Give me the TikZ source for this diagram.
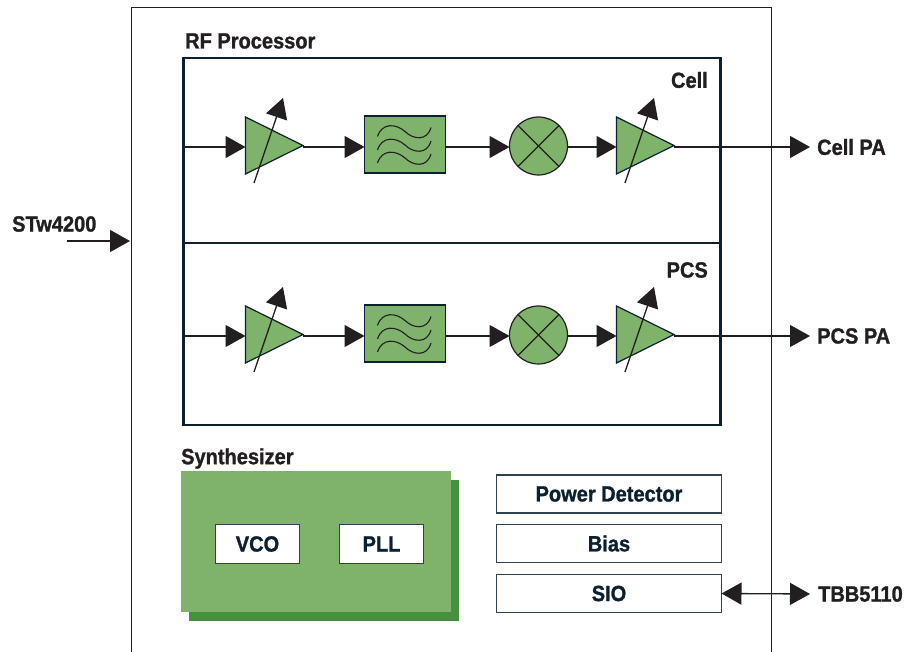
\documentclass[tikz,border=0pt]{standalone}
\usepackage{fontspec}
\setmainfont{Liberation Sans}[FakeStretch=0.91]
\usetikzlibrary{arrows.meta,shapes.geometric}

\definecolor{leafgreen}{HTML}{7FB26B}
\definecolor{darkgreen}{HTML}{47903F}
\definecolor{inkblue}{HTML}{0B2030}
\definecolor{tipblack}{HTML}{231F20}

\newfontfamily\labelfont{Liberation Sans}[FakeStretch=0.91,BoldFeatures={FakeBold=1.2}]

\tikzset{
    label/.style={font=\labelfont\fontsize{22}{24}\selectfont\bfseries, text=tipblack, inner sep=0pt},
    ampbox/.style={isosceles triangle, isosceles triangle stretches, draw=inkblue, fill=leafgreen,
        line width=1.2pt, minimum width=57pt, minimum height=57.5pt, inner sep=0pt, outer sep=0pt, anchor=west},
    filterbox/.style={draw=inkblue, fill=leafgreen, line width=1.2pt, minimum width=81pt, minimum height=57pt, inner sep=0pt, outer sep=0pt},
    mixerbox/.style={circle, draw=tipblack, fill=leafgreen, line width=1.2pt, minimum size=58pt, inner sep=0pt, outer sep=0pt},
    rowbox/.style={draw=inkblue, line width=2.6pt, minimum width=537pt, inner sep=0pt, outer sep=0pt, anchor=north west},
    whitebox/.style={draw=inkblue!85, fill=white, line width=1.1pt, inner sep=0pt, outer sep=0pt,
        font=\labelfont\fontsize{22}{24}\selectfont\bfseries, text=inkblue},
    wire/.style={draw=tipblack, line width=1.3pt},
    arrowwire/.style={wire, -{Triangle[length=20pt,width=22pt,color=tipblack]}},
    bothwire/.style={wire, {Triangle[length=20pt,width=22pt,color=tipblack]}-{Triangle[length=20pt,width=22pt,color=tipblack]}}
}

\begin{document}
\begin{tikzpicture}[x=1pt, y=-1pt]
    \useasboundingbox (0,0) rectangle (908,652);

    % chip outline, open at the bottom
    \draw[tipblack, line width=1pt] (131.5,652) -- (131.5,7.5) -- (771,7.5) -- (771,652);

    \node[label, anchor=west] (rflabel) at (185,41) {RF Processor};
    \node[rowbox, minimum height=185pt] (cellbox) at (183.5,58) {};
    \node[rowbox, minimum height=182pt] (pcsbox) at (183.5,243) {};
    \node[label, anchor=east] (celllabel) at (708,80) {Cell};
    \node[label, anchor=east] (pcslabel) at (708,270) {PCS};

    \node[label, anchor=west] (cellpa) at (817,147) {Cell PA};
    \node[label, anchor=west] (pcspa) at (817,336) {PCS PA};

    % both signal rows
    \foreach \n/\rowy/\rowbox/\outlabel in {1/147/cellbox/cellpa, 2/336/pcsbox/pcspa} {
        \coordinate (row\n) at (183,\rowy);
        \node[ampbox] (ampa\n) at (245.5,\rowy-1.5) {};
        \node[filterbox] (filter\n) at (405,\rowy-2.5) {};
        \node[mixerbox] (mixer\n) at (538.5,\rowy-1) {};
        \node[ampbox] (ampb\n) at (616.5,\rowy-1.5) {};

        \draw[arrowwire] (\rowbox.west |- row\n) -- (ampa\n.west |- row\n);
        \draw[arrowwire] (ampa\n.apex |- row\n) -- (filter\n.west |- row\n);
        \draw[arrowwire] (filter\n.east |- row\n) -- (mixer\n.west |- row\n);
        \draw[arrowwire] (mixer\n.east |- row\n) -- (ampb\n.west |- row\n);
        \draw[arrowwire] (ampb\n.apex |- row\n) -- ([xshift=-7pt]\outlabel.west);

        % gain arrows
        \coordinate (tuna\n) at (254,\rowy+36);
        \coordinate (tunatip\n) at (283,\rowy-49);
        \coordinate (tunb\n) at (625,\rowy+36);
        \coordinate (tunbtip\n) at (654,\rowy-49);
        \draw[arrowwire] (tuna\n) -- (tunatip\n);
        \draw[arrowwire] (tunb\n) -- (tunbtip\n);

        \draw[tipblack, line width=1.1pt] (mixer\n.north west) -- (mixer\n.south east);
        \draw[tipblack, line width=1.1pt] (mixer\n.south west) -- (mixer\n.north east);

        % filter waves
        \foreach \dy in {-8,5.5,18.5} {
            \draw[tipblack, line width=1.1pt, shift={(filter\n.center)}]
                (-27.5,\dy) .. controls (-23,\dy-14) and (-9,\dy-13) .. (0,\dy-5)
                .. controls (8,\dy+3) and (22,\dy+5) .. (26,\dy-9);
        }
    }

    % synthesizer
    \node[label, anchor=west] (synlabel) at (181,458.5) {Synthesizer};
    \fill[darkgreen] (189,480) rectangle (459,621);
    \fill[leafgreen] (181,471) rectangle (451,612);
    \node[whitebox, minimum width=84pt, minimum height=39pt] (vco) at (257.5,544) {VCO};
    \node[whitebox, minimum width=84pt, minimum height=39pt] (pll) at (381.5,544) {PLL};

    \node[whitebox, minimum width=225pt, minimum height=38pt] (power) at (609,494) {Power Detector};
    \node[whitebox, minimum width=225pt, minimum height=38pt] (bias) at (609,543.5) {Bias};
    \node[whitebox, minimum width=225pt, minimum height=38pt] (sio) at (609,593.5) {SIO};

    \node[label, anchor=west] (stw) at (12,224) {STw4200};
    \coordinate (stwin) at (67,241);
    \draw[arrowwire] (stwin) -- (130,241);

    \node[label, anchor=west] (tbb) at (818,594) {TBB5110};
    \draw[bothwire] (sio.east) -- ([xshift=-8pt]tbb.west);
\end{tikzpicture}
\end{document}
